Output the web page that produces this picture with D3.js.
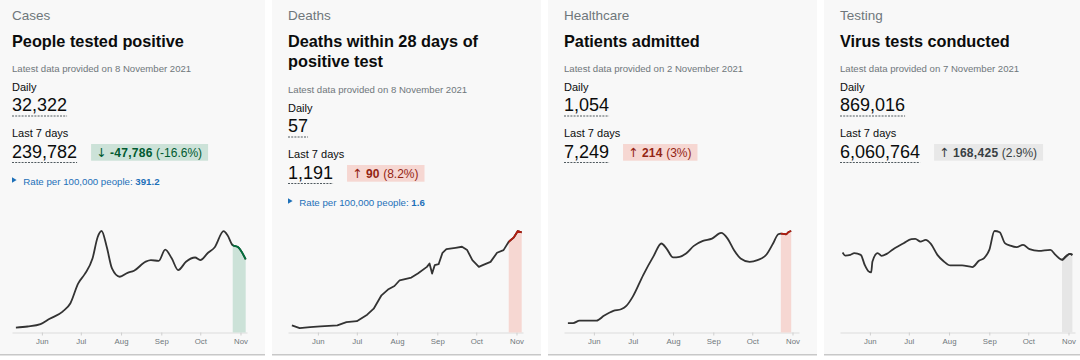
<!DOCTYPE html>
<html><head><meta charset="utf-8">
<script src="https://cdn.jsdelivr.net/npm/d3@7"></script>
<style>
html,body{margin:0;padding:0;background:#fff;overflow:hidden}
svg{display:block;font-family:"Liberation Sans",Arial,sans-serif}
</style>
</head><body>
<svg id="c" width="1080" height="360"></svg>
<script>
// ---------- DATA ----------
const categories = ["Cases", "Deaths", "Healthcare", "Testing"];
const titles = [["People tested positive"], ["Deaths within 28 days of", "positive test"], ["Patients admitted"], ["Virus tests conducted"]];
const latestDates = ["8 November 2021", "8 November 2021", "2 November 2021", "7 November 2021"];
const dailyValues = ["32,322", "57", "1,054", "869,016"];
const weeklyValues = ["239,782", "1,191", "7,249", "6,060,764"];
const changeValues = ["-47,786", "90", "214", "168,425"];
const changePercents = ["(-16.6%)", "(8.2%)", "(3%)", "(2.9%)"];
const changeArrows = ["\u2193", "\u2191", "\u2191", "\u2191"];
const rateValues = ["391.2", "1.6", null, null];
const highlightStarts = ["2021-10-26", "2021-10-26", "2021-10-23", "2021-10-27"];
const monthTicks = ["2021-06-01", "2021-07-01", "2021-08-01", "2021-09-01", "2021-10-01", "2021-11-01"];
const monthLabels = ["Jun", "Jul", "Aug", "Sep", "Oct", "Nov"];
const axisDomain = ["2021-05-09", "2021-11-06"];

const casesDates = ["2021-05-12","2021-05-21","2021-05-31","2021-06-07","2021-06-17","2021-06-23","2021-06-29","2021-07-04","2021-07-10","2021-07-14","2021-07-17","2021-07-21","2021-07-25","2021-07-31","2021-08-06","2021-08-11","2021-08-20","2021-08-24","2021-08-30","2021-09-04","2021-09-09","2021-09-14","2021-09-20","2021-09-27","2021-10-01","2021-10-07","2021-10-12","2021-10-19","2021-10-22","2021-10-26","2021-10-30","2021-11-05"];
const casesValues = [2300,2800,3900,6400,9800,13700,23000,27300,34600,44700,47500,40000,30000,26100,27900,28900,33200,33900,33500,38800,34700,29200,33100,35100,33900,37300,39800,47400,45500,40800,40000,34200];

const deathsDates = ["2021-05-12","2021-05-18","2021-05-26","2021-06-03","2021-06-16","2021-06-23","2021-07-01","2021-07-09","2021-07-14","2021-07-20","2021-07-25","2021-07-30","2021-08-03","2021-08-12","2021-08-17","2021-08-24","2021-08-26","2021-08-28","2021-08-30","2021-09-02","2021-09-05","2021-09-08","2021-09-15","2021-09-20","2021-09-24","2021-09-28","2021-10-03","2021-10-06","2021-10-12","2021-10-17","2021-10-22","2021-10-26","2021-10-30","2021-11-02","2021-11-05"];
const deathsValues = [11.8,7.2,8.9,10.1,11.8,17.3,19,29.8,39.9,62.3,71.9,77.9,87.5,92.1,98.8,109.9,115.6,98.8,112.8,114.4,133.5,139.7,141.9,143.6,138,121.2,109.9,112.8,118.3,133.5,138,152,159.4,170,167.8];

const admissionsDates = ["2021-05-12","2021-05-16","2021-05-21","2021-05-26","2021-06-03","2021-06-09","2021-06-16","2021-06-22","2021-06-26","2021-07-01","2021-07-09","2021-07-17","2021-07-23","2021-07-27","2021-08-01","2021-08-06","2021-08-11","2021-08-17","2021-08-24","2021-08-31","2021-09-07","2021-09-12","2021-09-17","2021-09-22","2021-09-29","2021-10-05","2021-10-12","2021-10-17","2021-10-21","2021-10-23","2021-10-27","2021-10-29","2021-10-31"];
const admissionsValues = [95,95,121,121,121,172,219,236,270,364,583,775,903,852,762,768,802,879,929,953,1010,953,835,751,717,734,792,903,997,1004,997,1020,1030];

const testsDates = ["2021-05-11","2021-05-13","2021-05-17","2021-05-20","2021-05-25","2021-05-28","2021-05-31","2021-06-02","2021-06-03","2021-06-07","2021-06-10","2021-06-14","2021-06-19","2021-06-27","2021-07-03","2021-07-06","2021-07-10","2021-07-14","2021-07-18","2021-07-23","2021-07-28","2021-08-02","2021-08-11","2021-08-19","2021-08-24","2021-08-28","2021-09-01","2021-09-05","2021-09-09","2021-09-13","2021-09-17","2021-09-22","2021-09-27","2021-10-02","2021-10-09","2021-10-18","2021-10-22","2021-10-27","2021-10-30","2021-11-02","2021-11-04"];
const testsValues = [945000,910000,918000,938000,918000,801000,723000,711000,840000,938000,907000,930000,985000,1056000,1103000,1106000,1074000,1094000,1047000,918000,840000,793000,793000,774000,848000,880000,977000,1200000,1185000,1056000,1028000,1009000,1036000,985000,965000,977000,918000,860000,899000,930000,918000];

const seriesDates = [casesDates, deathsDates, admissionsDates, testsDates];
const seriesValues = [casesValues, deathsValues, admissionsValues, testsValues];

// ---------- STYLE ----------
const cardX = [-4, 272, 548, 824];
const cardW = 269;
const titleShift = [0, 21, 0, 0];
const theme = [
  {badgeBg: "#cce2d8", badgeFg: "#005a30", areaFill: "#cce2d8", hiLine: "#00703c"},
  {badgeBg: "#f6d7d2", badgeFg: "#942514", areaFill: "#f6d7d2", hiLine: "#b21c0e"},
  {badgeBg: "#f6d7d2", badgeFg: "#942514", areaFill: "#f6d7d2", hiLine: "#b21c0e"},
  {badgeBg: "#e8e8e8", badgeFg: "#383f43", areaFill: "#e6e6e6", hiLine: "#333"}
];
const curves = [d3.curveMonotoneX, d3.curveLinear, d3.curveMonotoneX, d3.curveMonotoneX];
const parse = d3.timeParse("%Y-%m-%d");
const svg = d3.select("#c");
const dark = "#0b0c0c", grey = "#6f777b", blue = "#1d70b8";

categories.forEach((cat, i) => {
  const g = svg.append("g").attr("transform", `translate(${cardX[i]},0)`);
  g.append("rect").attr("x", 0).attr("y", -2).attr("width", cardW).attr("height", 357).attr("fill", "#f8f8f8");
  g.append("rect").attr("x", 0).attr("y", 354).attr("width", cardW).attr("height", 1.5).attr("fill", "#c8c8c8");
  const L = 16, s = titleShift[i];
  g.append("text").attr("x", L).attr("y", 19.5).attr("font-size", 13.5).attr("fill", grey).text(cat);
  titles[i].forEach((t, k) => {
    g.append("text").attr("x", L).attr("y", 46.5 + k * 20.5).attr("font-size", 16.3).attr("font-weight", "bold").attr("fill", dark).text(t);
  });
  g.append("text").attr("x", L).attr("y", 71.5 + s).attr("font-size", 9.6).attr("fill", grey).text("Latest data provided on " + latestDates[i]);
  g.append("text").attr("x", L).attr("y", 90.5 + s).attr("font-size", 11).attr("fill", dark).text("Daily");
  const n1 = g.append("text").attr("x", L).attr("y", 111 + s).attr("font-size", 18).attr("fill", dark).text(dailyValues[i]);
  const w1 = n1.node().getComputedTextLength();
  g.append("line").attr("x1", L).attr("x2", L + w1).attr("y1", 116 + s).attr("y2", 116 + s).attr("stroke", "#505a5f").attr("stroke-width", 1).attr("stroke-dasharray", "2,1.2");
  g.append("text").attr("x", L).attr("y", 137.3 + s).attr("font-size", 11).attr("fill", dark).text("Last 7 days");
  const n2 = g.append("text").attr("x", L).attr("y", 157.7 + s).attr("font-size", 18).attr("fill", dark).text(weeklyValues[i]);
  const w2 = n2.node().getComputedTextLength();
  g.append("line").attr("x1", L).attr("x2", L + w2).attr("y1", 162.5 + s).attr("y2", 162.5 + s).attr("stroke", "#505a5f").attr("stroke-width", 1).attr("stroke-dasharray", "2,1.2");
  // badge
  const bx = L + w2 + 14;
  const bRect = g.append("rect").attr("x", bx).attr("y", 144 + s).attr("height", 16.7).attr("fill", theme[i].badgeBg);
  const bt = g.append("text").attr("x", bx + 5).attr("y", 156.6 + s).attr("font-size", 12).attr("fill", theme[i].badgeFg);
  bt.append("tspan").attr("font-family", "DejaVu Sans, sans-serif").attr("font-size", 12.5).text(changeArrows[i]);
  bt.append("tspan").text(" ");
  bt.append("tspan").attr("font-weight", "bold").attr("letter-spacing", 0.3).text(changeValues[i]);
  bt.append("tspan").text(" " + changePercents[i]);
  bRect.attr("width", bt.node().getComputedTextLength() + 11);
  // rate
  if (rateValues[i]) {
    const ry = 185 + s;
    g.append("path").attr("d", `M${L},${ry - 7.8}L${L + 4.6},${ry - 5}L${L},${ry - 2.2}Z`).attr("fill", blue);
    const rt = g.append("text").attr("x", L + 11.3).attr("y", ry).attr("font-size", 9.7).attr("fill", blue);
    rt.append("tspan").text("Rate per 100,000 people: ");
    rt.append("tspan").attr("font-weight", "bold").text(rateValues[i]);
  }
  // chart
  const data = seriesDates[i].map((d, k) => ({date: parse(d), value: seriesValues[i][k]}));
  const x = d3.scaleTime().domain(axisDomain.map(parse)).range([16, 251]);
  const y = d3.scaleLinear().domain([0, d3.max(data, d => d.value)]).range([332.5, 231]);
  const hx = x(parse(highlightStarts[i]));
  const clipId = "clip" + i;
  g.append("clipPath").attr("id", clipId).append("rect").attr("x", hx).attr("y", 200).attr("width", 260 - hx).attr("height", 140);
  const area = d3.area().x(d => x(d.date)).y0(y(0)).y1(d => y(d.value)).curve(curves[i]);
  const line = d3.line().x(d => x(d.date)).y(d => y(d.value)).curve(curves[i]);
  // axis
  const axis = d3.axisBottom(x).tickValues(monthTicks.map(parse)).tickFormat((d, k) => monthLabels[k]).tickSize(3).tickSizeOuter(0);
  const ax = g.append("g").attr("transform", `translate(0,${y(0)})`).call(axis);
  ax.select(".domain").attr("stroke", "#dcdcdc");
  ax.selectAll(".tick line").attr("stroke", "#cfcfcf");
  ax.selectAll(".tick text").attr("fill", grey).attr("font-size", 7.8).attr("font-family", "Liberation Sans, Arial, sans-serif").attr("dy", "0").attr("y", 11.5);
  g.append("path").datum(data).attr("d", area).attr("fill", theme[i].areaFill).attr("clip-path", `url(#${clipId})`);
  g.append("path").datum(data).attr("d", line).attr("fill", "none").attr("stroke", "#333").attr("stroke-width", 1.8).attr("stroke-linejoin", "round");
  g.append("path").datum(data).attr("d", line).attr("fill", "none").attr("stroke", theme[i].hiLine).attr("stroke-width", 1.8).attr("stroke-linejoin", "round").attr("clip-path", `url(#${clipId})`);
});
</script>
</body></html>
